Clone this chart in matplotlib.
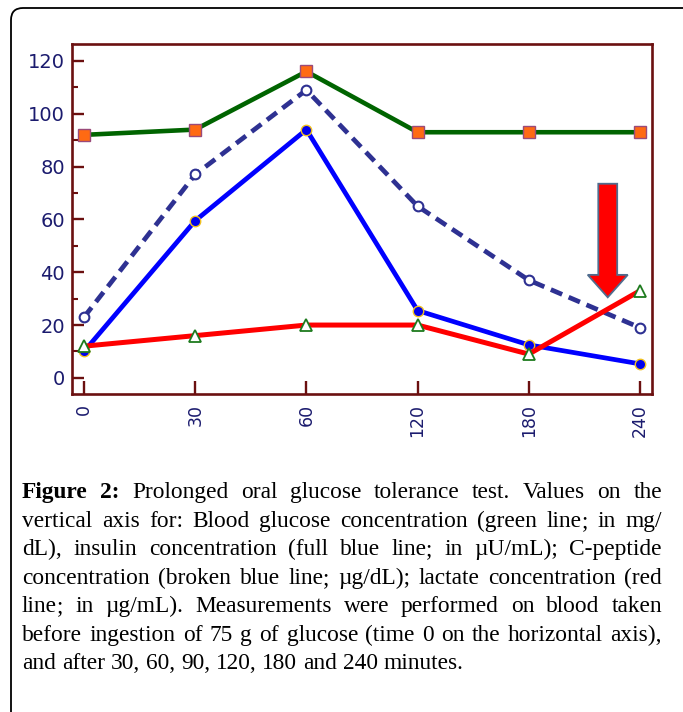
import matplotlib
matplotlib.use("Agg")
import matplotlib.pyplot as plt
from matplotlib.patches import FancyBboxPatch, FancyArrow
from matplotlib.transforms import IdentityTransform
from matplotlib.ticker import MultipleLocator

# data (time points drawn as equally spaced categories)
times = ["0", "30", "60", "120", "180", "240"]
glucose = [92, 94, 116, 93, 93, 93]          # green line, mg/dL
c_peptide = [23, 77, 109, 65, 37, 19]        # broken blue line
insulin = [10, 59.5, 94, 25.5, 12.5, 5.3]    # full blue line
lactate = [12, 16, 20, 20, 9, 33]            # red line

caption_lines = [
    "Figure 2: Prolonged oral glucose tolerance test. Values on the",
    "vertical axis for: Blood glucose concentration (green line; in mg/",
    "dL), insulin concentration (full blue line; in \u00b5U/mL); C-peptide",
    "concentration (broken blue line; \u00b5g/dL); lactate concentration (red",
    "line; in \u00b5g/mL). Measurements were performed on blood taken",
    "before ingestion of 75 g of glucose (time 0 on the horizontal axis),",
    "and after 30, 60, 90, 120, 180 and 240 minutes.",
]

W, H = 683, 712
fig = plt.figure(figsize=(W / 100, H / 100), dpi=100)
fig.patch.set_facecolor("white")

ax = fig.add_axes([72 / W, 1 - 394 / H, 580 / W, 350 / H])

spine_col = "#6b1010"
lab_col = "#1b1b6e"

ax.plot(times, glucose, color="#006400", lw=3.3, marker="s", ms=8.5,
        mfc="#ff6a13", mec="#9a4a7a", mew=1.0, zorder=3)
ax.plot(times, c_peptide, color="#2e3192", lw=3.4, ls=(0, (2.6, 1.5)),
        marker="o", ms=7, mfc="white", mec="#2e3192", mew=1.5, zorder=4)
ax.plot(times, insulin, color="#0000ff", lw=3.4, marker="o", ms=7.5,
        mfc="#0000ee", mec="#f0c020", mew=1.0, zorder=5)
ax.plot(times, lactate, color="#ff0000", lw=3.6, marker="^", ms=9,
        mfc="white", mec="#1e7b1e", mew=1.3, zorder=6)

# big red arrow pointing at the 240 min lactate value
arrow_x, arrow_top, arrow_tip = 4.71, 73.5, 30.5
ax.add_patch(FancyArrow(arrow_x, arrow_top, 0, arrow_tip - arrow_top,
                        width=0.17, head_width=0.36, head_length=8.5,
                        length_includes_head=True, facecolor="#ff0000",
                        edgecolor="#4f6d8f", lw=1.3, zorder=7))

ax.set_xlim(-0.108, 5.108)
ax.set_ylim(-6.1, 126.4)
ax.yaxis.set_major_locator(MultipleLocator(20))
ax.yaxis.set_minor_locator(MultipleLocator(10))

for s in ax.spines.values():
    s.set_color(spine_col)
    s.set_linewidth(1.9)

ax.tick_params(axis="y", which="major", direction="in", length=8.5, width=1.7,
               color=spine_col, labelcolor=lab_col, pad=5)
ax.tick_params(axis="y", which="minor", direction="in", length=4.5, width=1.5,
               color=spine_col)
ax.tick_params(axis="x", which="major", direction="in", length=9.5, width=1.7,
               color=spine_col, labelcolor=lab_col, pad=7)
for t in ax.get_yticklabels():
    t.set_fontfamily(["Liberation Sans Narrow", "DejaVu Sans"])
    t.set_fontsize(14)
for t in ax.get_xticklabels():
    t.set_fontfamily("DejaVu Sans")
    t.set_fontsize(12.5)
    t.set_rotation(90)
    t.set_va("top")

# outer rounded frame of the figure panel
fig.add_artist(FancyBboxPatch((11, -40), 740, H - 8 + 40,
                              boxstyle="round,pad=0,rounding_size=12",
                              transform=IdentityTransform(), fill=False,
                              edgecolor="black", lw=1.3))

# justified caption
serif = "Liberation Serif"
fs = 16.8
renderer = fig.canvas.get_renderer()


def width_of(s, weight="normal"):
    t = fig.text(0, 0, s, fontsize=fs, family=serif, weight=weight)
    w = t.get_window_extent(renderer).width
    t.remove()
    return w


def put(x, y, s, weight):
    fig.text(x / W, 1 - y / H, s, fontsize=fs, family=serif, weight=weight,
             va="baseline", ha="left", color="black")


space = width_of("a a") - width_of("aa")
x0, x1 = 22, 662
base0, step = 498.25, 28.5
for i, line in enumerate(caption_lines):
    words = line.split(" ")
    weights = ["bold" if (i == 0 and j < 2) else "normal" for j in range(len(words))]
    widths = [width_of(w, wt) for w, wt in zip(words, weights)]
    if i < len(caption_lines) - 1:
        gap = (x1 - x0 - sum(widths)) / (len(words) - 1)
    else:
        gap = space
    x = x0
    # keep the baseline away from exact half pixels (avoids rounding jitter)
    y = round(base0 + i * step) + 0.25
    for w, wt, ww in zip(words, weights, widths):
        if w == "line;":
            # the lone semicolon shifts the glyph bitmap; draw it on its own
            put(x, y, "line", wt)
            put(x + width_of("line", wt), y, ";", wt)
        else:
            put(x, y, w, wt)
        x += ww + gap

fig.savefig("out.png", dpi=100)
